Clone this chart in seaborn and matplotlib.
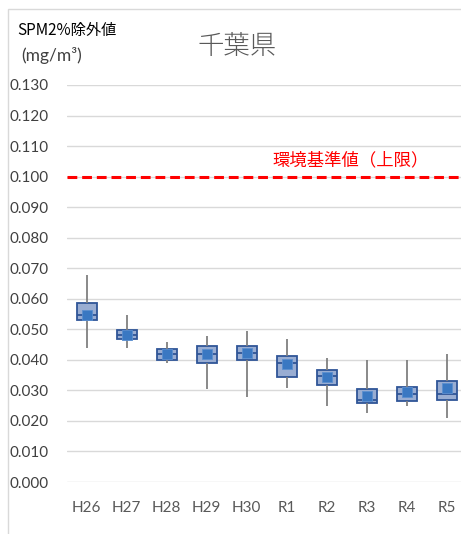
import matplotlib
matplotlib.use("Agg")
import matplotlib.pyplot as plt
import matplotlib.patches as mpatches
import numpy as np
import pandas as pd
import seaborn as sns

# Fiscal years
years = ["H26", "H27", "H28", "H29", "H30", "R1", "R2", "R3", "R4", "R5"]
# Box statistics (mg/m3)
whisker_low = [0.0438, 0.0438, 0.0390, 0.0306, 0.0278, 0.0307, 0.0250, 0.0226, 0.0250, 0.0209]
q1 = [0.0529, 0.0467, 0.0398, 0.0389, 0.0400, 0.0343, 0.0318, 0.0258, 0.0264, 0.0268]
median = [0.0548, 0.0482, 0.0418, 0.0418, 0.0423, 0.0389, 0.0347, 0.0268, 0.0287, 0.0289]
q3 = [0.0585, 0.0498, 0.0437, 0.0445, 0.0445, 0.0413, 0.0367, 0.0306, 0.0310, 0.0331]
whisker_high = [0.0678, 0.0546, 0.0458, 0.0477, 0.0496, 0.0467, 0.0407, 0.0398, 0.0398, 0.0418]
mean = [0.0548, 0.0482, 0.0418, 0.0418, 0.0423, 0.0385, 0.0343, 0.0283, 0.0296, 0.0307]
standard = 0.100
yticks = [round(0.01 * i, 3) for i in range(14)]

sns.set_theme(style="white")
plt.rcParams["font.family"] = ["Lato", "Noto Sans CJK JP", "DejaVu Sans"]

# Five-number summary per year: quartiles with linear interpolation reproduce q1/median/q3
rows = []
for i, y in enumerate(years):
    for v in (whisker_low[i], q1[i], median[i], q3[i], whisker_high[i]):
        rows.append({"year": y, "value": v})
df = pd.DataFrame(rows)

W, H = 461, 534
fig = plt.figure(figsize=(W / 100, H / 100), dpi=100)

# Outer chart frame
fig.patches.append(mpatches.Rectangle((8 / W, -0.1), 1.2, 1 - 9 / H + 0.1,
                                      transform=fig.transFigure, fill=False,
                                      edgecolor="#d9d9d9", linewidth=1.0))

left, right, top, bottom = 66.5, 466.5, 85, 482
ax = fig.add_axes([left / W, 1 - bottom / H, (right - left) / W, (bottom - top) / H])
ax.set_facecolor("none")

sns.boxplot(data=df, x="year", y="value", order=years, whis=(0, 100), width=0.5,
            color="#8faadc", linecolor="#2f5597", linewidth=1.3, showcaps=False,
            whiskerprops={"color": "#808080", "linewidth": 1.3},
            medianprops={"color": "#2f5597", "linewidth": 1.3},
            ax=ax, zorder=3)

# Mean markers
ax.scatter(np.arange(len(years)), mean, marker="s", s=48, color="#3a78c2",
           edgecolor="#5b8fd0", linewidth=0.6, zorder=5)

# Environmental standard (upper limit)
ax.axhline(standard, color="#ff0000", linestyle=(0, (3.2, 1.6)), linewidth=2.2, zorder=4)
ax.text(0.5155, standard + 0.0053, "環境基準値（上限）", transform=ax.get_yaxis_transform(),
        color="#ff0000", fontsize=12.5, ha="left", va="center",
        family=["Noto Sans CJK JP", "DejaVu Sans"])

ax.set_ylim(0, 0.13)
ax.set_xlim(-0.5, len(years) - 0.5)
ax.set_yticks(yticks)
ax.set_yticklabels([f"{t:.3f}" for t in yticks])
ax.yaxis.grid(True, color="#d9d9d9", linewidth=1.0)
ax.set_axisbelow(True)
for s in ax.spines.values():
    s.set_visible(False)
ax.tick_params(axis="y", length=0, pad=13, labelsize=11, labelcolor="#404040")
ax.tick_params(axis="x", length=0, pad=14, labelsize=11, labelcolor="#595959")
ax.set_xlabel("")
ax.set_ylabel("")

# Titles and axis caption
fig.text(237 / W, 1 - 46 / H, "千葉県", ha="center", va="center", fontsize=19,
         color="#595959", family=["Noto Sans CJK JP", "DejaVu Sans"], fontweight="light")
fig.text(17 / W, 1 - 30 / H, "SPM2%除外値", ha="left", va="center", fontsize=11,
         color="#000000", family=["Noto Sans CJK JP", "DejaVu Sans"])
fig.text(21 / W, 1 - 55 / H, "(mg/m³)", ha="left", va="center", fontsize=12.5,
         color="#404040", family=["Lato", "DejaVu Sans"])

fig.savefig("out.png", dpi=100, facecolor="white")
